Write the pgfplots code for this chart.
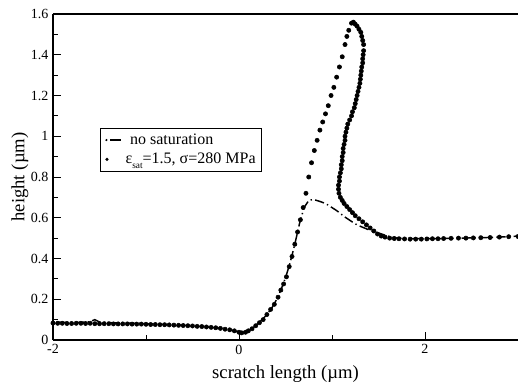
\documentclass[border=0pt]{standalone}
\usepackage{pgfplots}
\pgfplotsset{compat=1.18}
\usepackage{fontspec}
\setmainfont{Liberation Serif}
\begin{document}
\begin{tikzpicture}
\path[use as bounding box] (-39.75pt,-33.75pt) rectangle (348.75pt,255pt);
\begin{axis}[
  scale only axis,
  width=348.75pt, height=244.5pt,
  at={(0,0)}, anchor=south west,
  xmin=-2, xmax=3, ymin=0, ymax=1.6,
  axis x line*=box, axis y line*=left,
  axis line style={line width=0.9pt},
  xtick={-2,0,2}, minor xtick={-1,1},
  ytick={0,0.2,0.4,0.6,0.8,1,1.2,1.4,1.6},
  yticklabels={0,0.2,0.4,0.6,0.8,1,1.2,1.4,1.6},
  minor ytick={0.1,0.3,0.5,0.7,0.9,1.1,1.3,1.5},
  tick align=inside, xtick pos=bottom, ytick pos=left,
  major tick length=6pt, minor tick length=4pt,
  tick style={black, line width=0.6pt},
  /pgf/number format/assume math mode=true,
  ticklabel style={font=\fontsize{10.5}{12}\selectfont},
  xlabel={scratch length (\textmu m)},
  ylabel={height (\textmu m)},
  label style={font=\fontsize{14}{16}\selectfont},
  xlabel style={yshift=-2pt},
  ylabel style={yshift=-5pt},
  legend style={at={(0.1,0.65)}, anchor=north west, draw=black, line width=0.6pt,
    font=\fontsize{12}{13}\selectfont, inner sep=2pt, row sep=1pt},
  legend cell align=left,
  legend image code/.code={},
]
\addplot[black, line width=1.1pt, dash pattern=on 1pt off 2.5pt on 7pt off 2.5pt] coordinates {
(-2.0,0.088) (-1.9,0.087) (-1.8,0.086) (-1.7,0.087) (-1.6,0.090) (-1.55,0.10) (-1.5,0.088)
(-1.4,0.085) (-1.3,0.084) (-1.2,0.083) (-1.1,0.082) (-1.0,0.080) (-0.9,0.078) (-0.8,0.076)
(-0.7,0.074) (-0.6,0.072) (-0.5,0.069) (-0.4,0.066) (-0.3,0.062) (-0.2,0.057) (-0.1,0.050)
(-0.05,0.045) (0,0.038) (0.05,0.036) (0.1,0.045) (0.15,0.06) (0.2,0.08) (0.25,0.10)
(0.3,0.125) (0.35,0.155) (0.4,0.195) (0.45,0.245) (0.5,0.305) (0.55,0.38) (0.6,0.47)
(0.65,0.57) (0.7,0.65) (0.75,0.685) (0.8,0.69) (0.87,0.68) (0.93,0.67) (1.0,0.65)
(1.05,0.635) (1.15,0.60) (1.25,0.57) (1.32,0.555) (1.4,0.54) (1.5,0.525) (1.6,0.51)
(1.7,0.50) (1.8,0.498) (2.0,0.497) (2.2,0.498) (2.4,0.50) (2.6,0.502) (2.8,0.505) (3.0,0.51)
};
\addlegendentry{\tikz[baseline=-0.6ex]{\fill (0,0) circle (0.9pt); \draw[line width=1.6pt] (3pt,0)--(11pt,0);}\ \ no saturation}
\addplot[only marks, mark=*, mark size=1.6pt, black] coordinates {
(-2.0,0.083) (-1.95,0.082) (-1.9,0.082) (-1.85,0.081) (-1.8,0.081) (-1.75,0.082) (-1.7,0.082)
(-1.65,0.081) (-1.6,0.082) (-1.55,0.080) (-1.5,0.080) (-1.45,0.080) (-1.4,0.080) (-1.35,0.079)
(-1.3,0.079) (-1.25,0.079) (-1.2,0.079) (-1.15,0.078) (-1.1,0.078) (-1.05,0.078) (-1.0,0.077)
(-0.95,0.076) (-0.9,0.076) (-0.85,0.075) (-0.8,0.075) (-0.75,0.074) (-0.7,0.073) (-0.65,0.072)
(-0.6,0.071) (-0.55,0.070) (-0.5,0.069) (-0.45,0.067) (-0.4,0.066) (-0.35,0.064) (-0.3,0.062)
(-0.25,0.060) (-0.2,0.057) (-0.15,0.053) (-0.1,0.050) (-0.05,0.045) (0,0.038) (0.03,0.035)
(0.07,0.038) (0.1,0.045) (0.14,0.055) (0.18,0.07) (0.22,0.085) (0.26,0.10) (0.3,0.125)
(0.34,0.15) (0.38,0.175) (0.42,0.21) (0.45,0.245) (0.48,0.275) (0.51,0.31) (0.54,0.36)
(0.57,0.41) (0.6,0.47) (0.63,0.53) (0.66,0.59) (0.69,0.65) (0.72,0.72) (0.75,0.80)
(0.78,0.87) (0.81,0.93) (0.84,0.98) (0.87,1.03) (0.90,1.07) (0.93,1.11) (0.96,1.15)
(0.99,1.20) (1.02,1.24) (1.05,1.29) (1.08,1.34) (1.11,1.39) (1.14,1.45) (1.16,1.49)
(1.18,1.52) (1.21,1.555) (1.23,1.56) (1.25,1.55) (1.27,1.54) (1.29,1.525) (1.31,1.51)
(1.32,1.49) (1.33,1.47) (1.34,1.45) (1.34,1.42) (1.335,1.40) (1.33,1.38) (1.33,1.36)
(1.32,1.34) (1.315,1.32) (1.31,1.30) (1.305,1.28) (1.30,1.26) (1.29,1.24) (1.28,1.22)
(1.27,1.20) (1.26,1.18) (1.25,1.16) (1.24,1.14) (1.22,1.12) (1.21,1.10) (1.19,1.08)
(1.17,1.06) (1.16,1.04) (1.15,1.02) (1.14,1.00) (1.14,0.98) (1.13,0.96) (1.12,0.94)
(1.12,0.92) (1.11,0.90) (1.11,0.88) (1.10,0.86) (1.10,0.84) (1.09,0.82) (1.08,0.80)
(1.08,0.78) (1.07,0.76) (1.07,0.74) (1.075,0.72) (1.09,0.70) (1.11,0.685) (1.13,0.67)
(1.16,0.655) (1.19,0.64) (1.22,0.625) (1.25,0.61) (1.29,0.595) (1.33,0.58) (1.37,0.565)
(1.41,0.55) (1.45,0.535) (1.49,0.52) (1.53,0.51) (1.57,0.505) (1.62,0.50) (1.67,0.498)
(1.72,0.497) (1.78,0.496) (1.84,0.495) (1.9,0.495) (1.96,0.495) (2.02,0.496) (2.08,0.497)
(2.14,0.497) (2.2,0.498) (2.28,0.499) (2.36,0.50) (2.44,0.50) (2.52,0.501) (2.6,0.502)
(2.7,0.503) (2.8,0.505) (2.9,0.507) (3.0,0.508)
};
\addlegendentry{\tikz[baseline=-0.6ex]{\fill (3pt,0) circle (1.3pt); \path (11pt,0);}\ \ ε\raisebox{-0.6ex}{\fontsize{7}{8}\selectfont sat}=1.5, σ=280 MPa}
\end{axis}
\end{tikzpicture}
\end{document}
